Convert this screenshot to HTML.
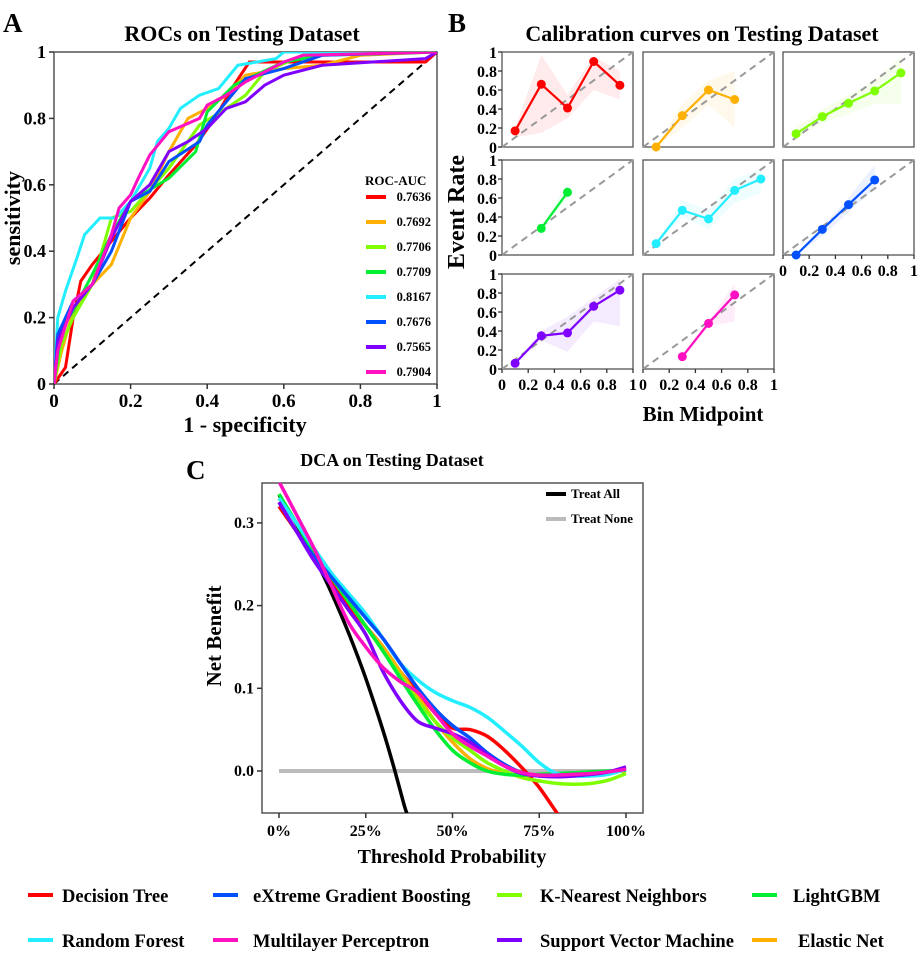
<!DOCTYPE html>
<html><head><meta charset="utf-8"><style>
html,body{margin:0;padding:0;background:#fff}
svg{display:block;font-family:"Liberation Serif",serif;font-weight:bold}
</style></head><body>
<svg id="fig" width="920" height="955" viewBox="0 0 920 955" xmlns="http://www.w3.org/2000/svg">
<defs>
<clipPath id="clipA"><rect x="54" y="52" width="383" height="332"/></clipPath>
<clipPath id="clipC"><rect x="262" y="483" width="381" height="330"/></clipPath>
</defs>
<text x="3" y="32" font-size="27">A</text>
<text x="448" y="32" font-size="27">B</text>
<text x="186" y="479" font-size="27">C</text>
<text x="242" y="41" font-size="22" text-anchor="middle">ROCs on Testing Dataset</text>
<text x="702" y="41" font-size="22" text-anchor="middle">Calibration curves on Testing Dataset</text>
<text x="392" y="466" font-size="18" text-anchor="middle">DCA on Testing Dataset</text>
<text x="245" y="432" font-size="22" text-anchor="middle">1 - specificity</text>
<text transform="translate(20,218) rotate(-90)" font-size="22" text-anchor="middle">sensitivity</text>
<text x="703" y="421" font-size="21" text-anchor="middle">Bin Midpoint</text>
<text transform="translate(464,212) rotate(-90)" font-size="24" text-anchor="middle">Event Rate</text>
<text x="452" y="863" font-size="20" text-anchor="middle">Threshold Probability</text>
<text transform="translate(221,636) rotate(-90)" font-size="21" text-anchor="middle">Net Benefit</text>
<g id="gA"></g><g id="gB"></g><g id="gC"></g><g id="gL"></g>
</svg>
<script>
var NS='http://www.w3.org/2000/svg';
function mk(tag,parent,attrs){var e=document.createElementNS(NS,tag);for(var k in attrs)e.setAttribute(k,attrs[k]);parent.appendChild(e);return e;}
var colors=['#ff0000','#ffb000','#80ff00','#00ee33','#22eeff','#0050ff','#8000ff','#ff10c0'];
var modelNames=['Decision Tree','Elastic Net','K-Nearest Neighbors','LightGBM','Random Forest','eXtreme Gradient Boosting','Support Vector Machine','Multilayer Perceptron'];
var aucLabels=['0.7636','0.7692','0.7706','0.7709','0.8167','0.7676','0.7565','0.7904'];
var rocTicks=[0,0.2,0.4,0.6,0.8,1];
var rocTickLabels=['0','0.2','0.4','0.6','0.8','1'];
var rocFpr=[
[0,0.03,0.05,0.07,0.1,0.15,0.2,0.25,0.3,0.37,0.42,0.47,0.51,0.97,1],
[0,0.02,0.05,0.1,0.15,0.2,0.25,0.3,0.35,0.4,0.45,0.5,0.6,0.7,0.8,1],
[0,0.02,0.05,0.1,0.15,0.2,0.3,0.38,0.45,0.5,0.55,0.65,1],
[0,0.02,0.05,0.1,0.15,0.2,0.3,0.37,0.4,0.47,0.6,0.7,1],
[0,0.01,0.03,0.06,0.08,0.12,0.16,0.2,0.25,0.27,0.3,0.33,0.38,0.43,0.48,0.58,0.6,1],
[0,0.01,0.05,0.1,0.15,0.2,0.25,0.3,0.38,0.4,0.45,0.5,0.6,0.7,1],
[0,0.01,0.05,0.1,0.15,0.2,0.25,0.3,0.35,0.4,0.45,0.5,0.55,0.6,0.7,0.97,1],
[0,0.01,0.05,0.1,0.15,0.17,0.2,0.22,0.25,0.3,0.38,0.4,0.45,0.5,0.6,0.65,1]];
var rocTpr=[
[0,0.05,0.2,0.31,0.36,0.43,0.5,0.56,0.63,0.72,0.8,0.9,0.97,0.97,1],
[0,0.1,0.22,0.3,0.36,0.5,0.58,0.7,0.8,0.83,0.87,0.93,0.95,0.96,0.99,1],
[0,0.12,0.2,0.3,0.5,0.52,0.65,0.78,0.83,0.87,0.94,0.99,1],
[0,0.17,0.22,0.33,0.45,0.55,0.62,0.7,0.82,0.9,0.97,0.99,1],
[0,0.2,0.28,0.38,0.45,0.5,0.5,0.55,0.65,0.73,0.77,0.83,0.87,0.89,0.96,0.98,1,1],
[0,0.15,0.25,0.3,0.4,0.55,0.58,0.67,0.73,0.78,0.85,0.92,0.95,0.99,1],
[0,0.13,0.23,0.3,0.44,0.55,0.6,0.7,0.73,0.77,0.83,0.85,0.9,0.93,0.96,0.98,1],
[0,0.1,0.25,0.3,0.45,0.53,0.57,0.62,0.69,0.76,0.8,0.84,0.87,0.91,0.97,0.99,1]];
var calX=[[0.1,0.3,0.5,0.7,0.9],[0.1,0.3,0.5,0.7],[0.1,0.3,0.5,0.7,0.9],[0.3,0.5],[0.1,0.3,0.5,0.7,0.9],[0.1,0.3,0.5,0.7],[0.1,0.3,0.5,0.7,0.9],[0.3,0.5,0.7]];
var calY=[[0.17,0.66,0.41,0.9,0.65],[0,0.33,0.6,0.5],[0.14,0.32,0.46,0.59,0.78],[0.28,0.66],[0.12,0.47,0.38,0.68,0.8],[0,0.27,0.53,0.79],[0.06,0.35,0.38,0.66,0.83],[0.13,0.48,0.78]];
var calLo=[[0.1,0.15,0.3,0.6,0.5],[0,0.2,0.45,0.2],[0.1,0.25,0.35,0.45,0.45],[0.25,0.6],[0.1,0.4,0.27,0.55,0.65],[0,0.2,0.45,0.7],[0.05,0.3,0.18,0.5,0.45],[0.1,0.45,0.5]];
var calHi=[[0.2,0.97,0.55,0.95,0.8],[0,0.45,0.7,0.8],[0.2,0.4,0.55,0.7,0.95],[0.3,0.75],[0.14,0.57,0.48,0.8,0.9],[0,0.3,0.6,0.95],[0.07,0.4,0.55,0.75,0.95],[0.15,0.5,0.9]];
var dcaT=[0,0.05,0.1,0.15,0.2,0.25,0.3,0.35,0.4,0.45,0.5,0.55,0.6,0.65,0.7,0.75,0.8,0.85,0.9,0.95,1];
var dcaNB=[
[0.32,0.29,0.26,0.23,0.2,0.175,0.15,0.12,0.095,0.07,0.052,0.05,0.042,0.025,0.004,-0.02,-0.05,-0.08],
[0.33,0.3,0.265,0.235,0.205,0.175,0.15,0.12,0.09,0.06,0.035,0.015,0.003,-0.003,-0.005,-0.005,-0.004,-0.003,-0.002,-0.001,0],
[0.33,0.3,0.265,0.235,0.205,0.175,0.145,0.115,0.085,0.06,0.04,0.025,0.01,0,-0.008,-0.012,-0.015,-0.016,-0.015,-0.011,-0.003],
[0.335,0.3,0.265,0.235,0.205,0.175,0.145,0.112,0.08,0.05,0.025,0.01,0,-0.004,-0.005,-0.004,-0.003,-0.002,-0.001,0,0.001],
[0.33,0.3,0.27,0.24,0.215,0.19,0.16,0.13,0.11,0.095,0.085,0.077,0.065,0.048,0.03,0.01,-0.003,-0.006,-0.006,-0.004,0.002],
[0.325,0.29,0.26,0.235,0.21,0.185,0.16,0.13,0.1,0.075,0.055,0.04,0.022,0.008,-0.002,-0.006,-0.006,-0.005,-0.004,-0.001,0.003],
[0.325,0.29,0.255,0.225,0.195,0.165,0.12,0.085,0.06,0.052,0.045,0.035,0.02,0.006,-0.003,-0.006,-0.007,-0.006,-0.004,-0.001,0.005],
[0.35,0.31,0.27,0.225,0.18,0.15,0.125,0.108,0.095,0.07,0.045,0.03,0.018,0.006,-0.002,-0.005,-0.005,-0.004,-0.003,-0.001,0.002]];
var treatAllT=[0,0.05,0.1,0.15,0.2,0.25,0.3,0.33,0.36,0.37];
var treatAllNB=[0.334,0.299,0.26,0.2165,0.1675,0.112,0.0486,0.006,-0.04,-0.053];
var dcaYTicks=[0,0.1,0.2,0.3];
var dcaYLabels=['0.0','0.1','0.2','0.3'];
var dcaXTicks=[0,0.25,0.5,0.75,1];
var dcaXLabels=['0%','25%','50%','75%','100%'];
var legendOrder=[0,5,2,3,4,7,6,1];

// ---------- Panel A ----------
var gA=document.getElementById('gA');
function ax(v){return 54+v*383;} function ay(v){return 384-v*332;}
var e=mk('rect',gA,{x:54,y:52,width:383,height:332,fill:'none',stroke:'#555','stroke-width':1.5});


rocTicks.forEach(function(t,i){
  var tx=mk('line',gA,{x1:ax(t),x2:ax(t),y1:384,y2:389,stroke:'#333','stroke-width':1.5});
  
  
  var lx=mk('text',gA,{x:ax(t),y:407,'font-size':19,'text-anchor':'middle'});lx.textContent=rocTickLabels[i];
  
  
  var ty=mk('line',gA,{x1:49,x2:54,y1:ay(t),y2:ay(t),stroke:'#333','stroke-width':1.5});
  
  
  var ly=mk('text',gA,{x:46,y:ay(t)+6,'font-size':18,'text-anchor':'end'});ly.textContent=rocTickLabels[i];
  
  
});
var d=mk('line',gA,{x1:ax(0),y1:ay(0),x2:ax(1),y2:ay(1),stroke:'#000','stroke-width':2,'stroke-dasharray':'7,5'});


var cg=mk('g',gA,{'clip-path':'url(#clipA)'});
rocFpr.forEach(function(fx,m){
  var pts=fx.map(function(f,i){return ax(f).toFixed(1)+','+ay(rocTpr[m][i]).toFixed(1);}).join(' ');
  var p=mk('polyline',cg,{points:pts,fill:'none',stroke:colors[m],'stroke-width':3,'stroke-linejoin':'miter'});
  
  
});
var lt=mk('text',gA,{x:365,y:185,'font-size':13});lt.textContent='ROC-AUC';


aucLabels.forEach(function(a,i){
  var y=197+i*25;
  var l=mk('line',gA,{x1:366,x2:386,y1:y,y2:y,stroke:colors[i],'stroke-width':4});
  
  
  var t=mk('text',gA,{x:431,y:y+4,'font-size':12.5,'text-anchor':'end'});t.textContent=a;
  
  
});

// ---------- Panel B ----------
var gB=document.getElementById('gB');
var colX=[502,643,783], rowY=[52,160,274], W=131, H=95;
var cells=[[0,0],[1,0],[2,0],[0,1],[1,1],[2,1],[0,2],[1,2]];
var xTickCells=[5,6,7];
cells.forEach(function(c,m){
  var x0=colX[c[0]], y0=rowY[c[1]];
  function bx(v){return x0+v*W;} function by(v){return y0+H-v*H;}
  var g=mk('g',gB,{});
  
  
  var r=mk('rect',g,{x:x0,y:y0,width:W,height:H,fill:'none',stroke:'#555','stroke-width':1.3});
  
  
  var band=calX[m].map(function(v,i){return bx(v)+','+by(calHi[m][i]);});
  for(var i=calX[m].length-1;i>=0;i--)band.push(bx(calX[m][i])+','+by(calLo[m][i]));
  var bp=mk('polygon',g,{points:band.join(' '),fill:colors[m],'fill-opacity':0.08});
  
  
  var dg=mk('line',g,{x1:bx(0),y1:by(0),x2:bx(1),y2:by(1),stroke:'#999','stroke-width':2,'stroke-dasharray':'7,5'});
  
  
  var pts=calX[m].map(function(v,i){return bx(v)+','+by(calY[m][i]);}).join(' ');
  var pl=mk('polyline',g,{points:pts,fill:'none',stroke:colors[m],'stroke-width':2.2});
  
  
  calX[m].forEach(function(v,i){
    var ci=mk('circle',g,{cx:bx(v),cy:by(calY[m][i]),r:4.5,fill:colors[m]});
    
    
  });
  if(c[0]===0){
    rocTicks.forEach(function(t,i){
      var tk=mk('line',g,{x1:x0-4,x2:x0,y1:by(t),y2:by(t),stroke:'#333','stroke-width':1.3});
      
      
      var tl=mk('text',g,{x:x0-5,y:by(t)+6,'font-size':16,'text-anchor':'end'});tl.textContent=rocTickLabels[i];
      
      
    });
  }
  if(xTickCells.indexOf(m)>=0){
    rocTicks.forEach(function(t,i){
      var tk=mk('line',g,{x1:bx(t),x2:bx(t),y1:y0+H,y2:y0+H+4,stroke:'#333','stroke-width':1.3});
      
      
      var tl=mk('text',g,{x:bx(t),y:y0+H+21,'font-size':16,'text-anchor':'middle'});tl.textContent=rocTickLabels[i];
      
      
    });
  }
});

// ---------- Panel C ----------
var gC=document.getElementById('gC');
function cx(t){return 279+t*347;} function cy(v){return 771-v*827;}
function smooth(xs,ys){
  var P=xs.map(function(t,i){return [cx(t),cy(ys[i])];});
  var s='M'+P[0][0].toFixed(1)+','+P[0][1].toFixed(1);
  for(var i=0;i<P.length-1;i++){
    var p0=P[Math.max(0,i-1)],p1=P[i],p2=P[i+1],p3=P[Math.min(P.length-1,i+2)];
    var c1=[p1[0]+(p2[0]-p0[0])/6,p1[1]+(p2[1]-p0[1])/6],c2=[p2[0]-(p3[0]-p1[0])/6,p2[1]-(p3[1]-p1[1])/6];
    s+=' C'+c1[0].toFixed(1)+','+c1[1].toFixed(1)+' '+c2[0].toFixed(1)+','+c2[1].toFixed(1)+' '+p2[0].toFixed(1)+','+p2[1].toFixed(1);
  }
  return s;
}
var rc=mk('rect',gC,{x:262,y:483,width:381,height:330,fill:'none',stroke:'#555','stroke-width':1.5});


dcaYTicks.forEach(function(t,i){
  var tk=mk('line',gC,{x1:257,x2:262,y1:cy(t),y2:cy(t),stroke:'#333','stroke-width':1.5});
  
  
  var tl=mk('text',gC,{x:254,y:cy(t)+5,'font-size':16,'text-anchor':'end'});tl.textContent=dcaYLabels[i];
  
  
});
dcaXTicks.forEach(function(t,i){
  var tk=mk('line',gC,{x1:cx(t),x2:cx(t),y1:813,y2:818,stroke:'#333','stroke-width':1.5});
  
  
  var tl=mk('text',gC,{x:cx(t),y:836,'font-size':16,'text-anchor':'middle'});tl.textContent=dcaXLabels[i];
  
  
});
var cc=mk('g',gC,{'clip-path':'url(#clipC)'});
var tn=mk('line',cc,{x1:cx(0),x2:cx(1),y1:cy(0),y2:cy(0),stroke:'#bbbbbb','stroke-width':4});


var ta=mk('path',cc,{d:smooth(treatAllT,treatAllNB),fill:'none',stroke:'#000','stroke-width':3.5});


dcaNB.forEach(function(vals,m){
  var p=mk('path',cc,{d:smooth(dcaT.slice(0,vals.length),vals),fill:'none',stroke:colors[m],'stroke-width':3.5});
  
  
});
var l1=mk('line',gC,{x1:546,x2:566,y1:494,y2:494,stroke:'#000','stroke-width':4});


var t1=mk('text',gC,{x:571,y:498,'font-size':13});t1.textContent='Treat All';


var l2=mk('line',gC,{x1:546,x2:566,y1:519,y2:519,stroke:'#bbbbbb','stroke-width':4});


var t2=mk('text',gC,{x:571,y:523,'font-size':13});t2.textContent='Treat None';



// ---------- Bottom legend ----------
var gL=document.getElementById('gL');
var legX=[28,213,497,752], legTX=[62,253,540,793];
legendOrder.forEach(function(m,i){
  var col=i%4,row=Math.floor(i/4);
  var y=[895,940][row];
  var lx=legX[col];
  var g=mk('g',gL,{});
  
  
  var sw=mk('line',g,{x1:lx,x2:lx+25,y1:y,y2:y,stroke:colors[m],'stroke-width':4});
  
  
  var tx=mk('text',g,{x:legTX[col]+(row===1&&col===3?5:0),y:y+7,'font-size':18.5});tx.textContent=modelNames[m];
  
  
});
</script>
</body></html>
